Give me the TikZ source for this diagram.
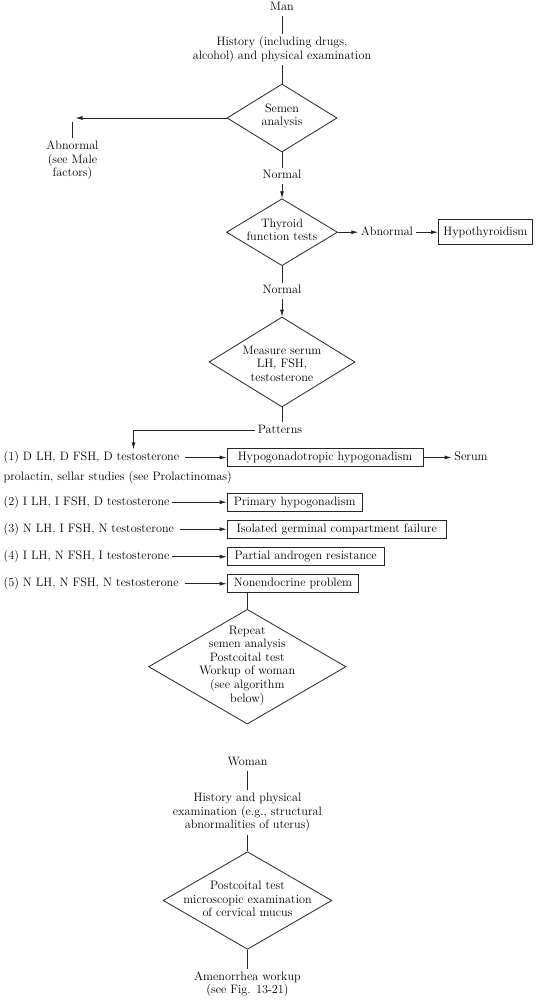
\documentclass[tikz,border=0pt]{standalone}
\usepackage{fontspec}
\usetikzlibrary{shapes.geometric,arrows.meta}
\begin{document}
\begin{tikzpicture}[x=1pt,y=-1pt,
  every node/.style={font=\fontsize{12.2}{13.6}\selectfont, inner sep=2.5pt, text=black},
  txt/.style={align=center},
  one/.style={text height=8.4pt, text depth=2.4pt},
  dia/.style={draw=black!85, diamond, inner sep=0pt, line width=.8pt},
  bx/.style={draw=black!85, one, anchor=west, minimum height=18pt, line width=.8pt, inner xsep=4pt},
  ln/.style={line width=.8pt, draw=black!85},
  arr/.style={ln, -{Latex[length=7pt,width=4pt]}},
  gap/.style={shorten <=4pt},
  row/.style={one, anchor=west, inner xsep=2pt}]
\useasboundingbox (0,0) rectangle (535,1000);

% ---- Man ----
\node[one] (man) at (282,8) {Man};
\node[txt] (hist) at (282,49.5) {History (including drugs,\\alcohol) and physical examination};
\node[dia, minimum width=110pt, minimum height=68pt] (semen) at (282,118) {};
\node[txt] at (282,116) {Semen\\analysis};
\coordinate (abtip) at (75.5,118);
\coordinate (abtop) at (72,122);
\node[txt] (abn) at (72.5,160.5) {Abnormal\\(see Male\\factors)};
\node[one] (norm1) at (282,175.7) {Normal};
\node[dia, minimum width=111pt, minimum height=67pt] (thy) at (282,232.2) {};
\node[txt] at (282,230) {Thyroid\\function tests};
\node[one] (abn2) at (387,232.2) {Abnormal};
\node[draw=black!85, line width=.8pt, one, minimum width=94pt, minimum height=25pt] (hypo) at (485.4,232.2) {Hypothyroidism};
\node[one] (norm2) at (282,290.7) {Normal};
\node[dia, minimum width=146pt, minimum height=90pt] (meas) at (282,362) {};
\node[txt] at (282,363.6) {Measure serum\\LH, FSH,\\testosterone};
\node[one] (pat) at (280,430) {Patterns};
\coordinate (pc) at (133.5,430);

\draw[ln] (man) -- (hist);
\draw[ln] (hist) -- (semen.north);
\draw[arr] (semen.west) -- (abtip);
\draw[ln] (abtop) -- (abn.north -| abtop);
\draw[ln] (semen.south) -- (norm1.north);
\draw[arr] (norm1.south) -- (thy.north);
\draw[arr] (thy.east) -- (abn2.west);
\draw[arr] (abn2.east) -- (hypo.west);
\draw[ln] (thy.south) -- (norm2.north);
\draw[arr] (norm2.south) -- (meas.north);
\draw[ln] (meas.south) -- (meas.south |- pat.north);

% ---- patterns ----
\node[row] (r1) at (1.5,457.5) {(1) D LH, D FSH, D testosterone};
\node[bx, minimum width=196pt] (b1) at (226.7,457.5) {Hypogonadotropic hypogonadism};
\node[one] (serum) at (471,457.5) {Serum};
\node[row] (pro) at (1.5,477.7) {prolactin, sellar studies (see Prolactinomas)};
\node[row] (r2) at (1.5,502.2) {(2) I LH, I FSH, D testosterone};
\node[bx, minimum width=135pt] (b2) at (226.7,502.2) {Primary hypogonadism};
\node[row] (r3) at (1.5,529.2) {(3) N LH, I FSH, N testosterone};
\node[bx, minimum width=219.3pt] (b3) at (226.7,529.2) {Isolated germinal compartment failure};
\node[row] (r4) at (1.5,556.7) {(4) I LH, N FSH, I testosterone};
\node[bx, minimum width=157.3pt] (b4) at (226.7,556.7) {Partial androgen resistance};
\node[row] (r5) at (1.5,583.7) {(5) N LH, N FSH, N testosterone};
\node[bx, minimum width=131.7pt] (b5) at (226.7,583.7) {Nonendocrine problem};

\draw[arr] (pat.west) -- (pc) -- (pc |- r1.north);
\draw[arr, gap] (r1.east) -- (b1.west);
\draw[arr] (b1.east) -- (serum.west);
\draw[arr] (r2.east) -- (b2.west);
\draw[arr, gap] (r3.east) -- (b3.west);
\draw[arr] (r4.east) -- (b4.west);
\draw[arr, gap] (r5.east) -- (b5.west);

\node[dia, minimum width=197.4pt, minimum height=114.7pt] (rep) at (247.3,666.7) {};
\node[txt] at (247.3,665.5) {Repeat\\semen analysis\\Postcoital test\\Workup of woman\\(see algorithm\\below)};
\draw[ln] (b5.south -| rep.north) -- (rep.north);

% ---- Woman ----
\node[one] (wom) at (247.5,762.7) {Woman};
\node[txt] (hist2) at (247.5,812.5) {History and physical\\examination (e.g., structural\\abnormalities of uterus)};
\node[dia, minimum width=168.7pt, minimum height=97.6pt] (post) at (247.5,900.5) {};
\node[txt] at (247.5,899) {Postcoital test\\microscopic examination\\of cervical mucus};
\node[txt] (amen) at (247.5,984) {Amenorrhea workup\\(see Fig. 13-21)};

\draw[ln] (wom) -- (hist2);
\draw[ln] (hist2) -- (post.north);
\draw[ln] (post.south) -- (amen);
\end{tikzpicture}
\end{document}
